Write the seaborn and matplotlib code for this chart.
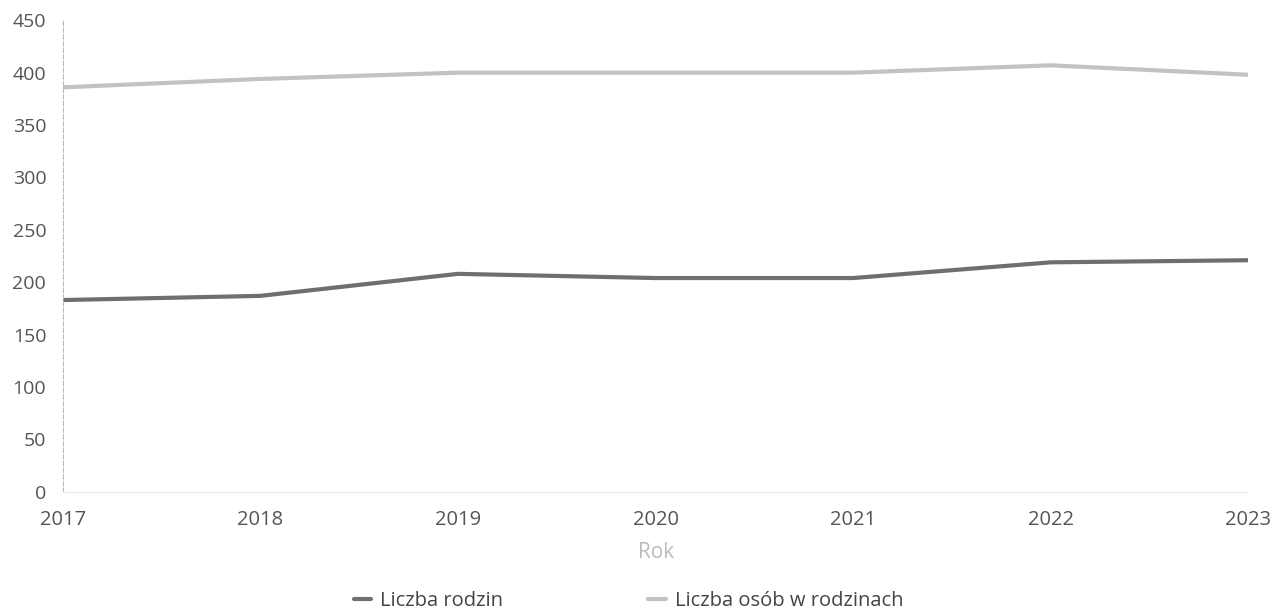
import matplotlib
matplotlib.use("Agg")
import matplotlib.pyplot as plt
import seaborn as sns
import pandas as pd
from matplotlib.lines import Line2D

years = [2017, 2018, 2019, 2020, 2021, 2022, 2023]
rodziny = [183, 187, 208, 204, 204, 219, 221]
osoby = [386, 394, 400, 400, 400, 407, 398]
series_names = ["Liczba rodzin", "Liczba osób w rodzinach"]
y_ticks = [0, 50, 100, 150, 200, 250, 300, 350, 400, 450]

sns.set_theme(style="white")
plt.rcParams['font.family'] = ['Open Sans', 'DejaVu Sans']

df = pd.DataFrame({
    "Rok": years * 2,
    "Wartość": rodziny + osoby,
    "Seria": [series_names[0]] * len(years) + [series_names[1]] * len(years),
})

fig = plt.figure(figsize=(12.83, 6.14), dpi=100)
ax = fig.add_axes([0.049, 0.199, 0.924, 0.768])
sns.lineplot(data=df, x="Rok", y="Wartość", hue="Seria",
             palette={series_names[0]: "#6f6f6f", series_names[1]: "#c2c2c2"},
             linewidth=3, ax=ax, legend=False)

ax.set_xlim(2017, 2023)
ax.set_ylim(0, 450)
ax.set_xticks(years)
ax.set_xticklabels([str(y) for y in years])
ax.set_yticks(y_ticks)
ax.tick_params(axis="x", colors="#555555", labelsize=14.5, length=0, pad=13)
ax.tick_params(axis="y", colors="#555555", labelsize=14, length=0, pad=12)
ax.set_xlabel("Rok", color="#bbbbbb", fontsize=15, labelpad=9)
ax.set_ylabel("")
for s in ["top", "right"]:
    ax.spines[s].set_visible(False)
ax.spines["left"].set_color("#bbbbbb")
ax.spines["left"].set_linestyle((0, (4, 2)))
ax.spines["left"].set_linewidth(0.8)
ax.spines["bottom"].set_color("#eeeeee")
ax.spines["bottom"].set_linewidth(1)

handles = [Line2D([0], [0], color="#6f6f6f", lw=3),
           Line2D([0], [0], color="#c2c2c2", lw=3)]
leg = fig.legend(handles, series_names, loc="lower center", bbox_to_anchor=(0.49, -0.025),
                 ncol=2, frameon=False, handlelength=0.85, handletextpad=0.45,
                 columnspacing=7.2, fontsize=14.5)
for t in leg.get_texts():
    t.set_color("#444444")

fig.savefig("out.png", dpi=100)
